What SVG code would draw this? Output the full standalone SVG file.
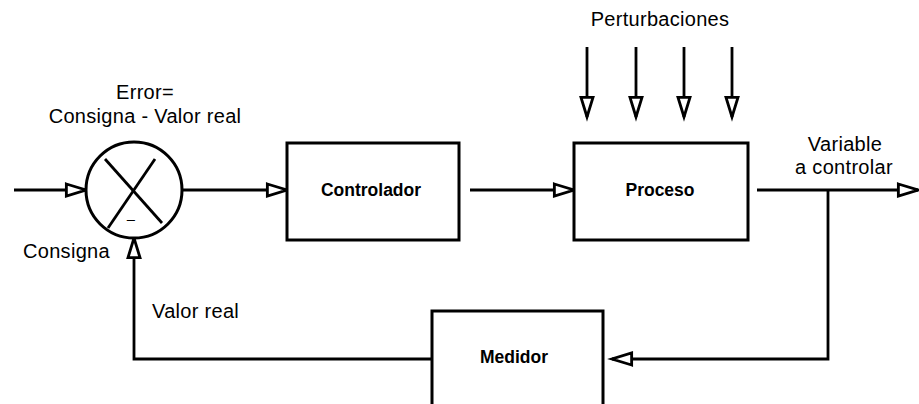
<svg xmlns="http://www.w3.org/2000/svg" width="919" height="404" viewBox="0 0 919 404">
  <style>
    .box { fill: #fff; stroke: #000; stroke-width: 3; }
    .wire { fill: none; stroke: #000; stroke-width: 2.8; }
    .arr { marker-end: url(#tri); }
    .lbl { font-family: "Liberation Sans", Arial, sans-serif; font-size: 20px; fill: #000; letter-spacing: 0.3px; }
    .name { font-family: "Liberation Sans", Arial, sans-serif; font-size: 17.5px; font-weight: bold; fill: #000; text-anchor: middle; }
  </style>
  <defs>
    <!-- open triangular arrowhead -->
    <marker id="tri" markerUnits="userSpaceOnUse" markerWidth="24" markerHeight="18" viewBox="-2 -2 22 15" refX="18" refY="5.5" orient="auto" overflow="visible">
      <path d="M0,0 L18,5.5 L0,11 Z" fill="#fff" stroke="#000" stroke-width="2.6" stroke-linejoin="miter"/>
    </marker>
  </defs>

  <rect width="919" height="404" fill="#fff"/>

  <!-- connectors -->
  <g id="connectors">
    <line class="wire arr" x1="14" y1="190" x2="86" y2="190"/>
    <line class="wire arr" x1="182" y1="190" x2="287" y2="190"/>
    <line class="wire arr" x1="470" y1="190" x2="574" y2="190"/>
    <line class="wire arr" x1="757" y1="190" x2="918" y2="190"/>
    <polyline class="wire arr" points="828,190 828,359 612,359"/>
    <polyline class="wire arr" points="432,359 134,359 134,238"/>
    <line class="wire arr" x1="587" y1="47" x2="587" y2="117"/>
    <line class="wire arr" x1="636" y1="47" x2="636" y2="117"/>
    <line class="wire arr" x1="684" y1="47" x2="684" y2="117"/>
    <line class="wire arr" x1="732" y1="47" x2="732" y2="117"/>
  </g>

  <!-- summing junction -->
  <g id="sumador">
    <circle cx="134" cy="190" r="48" class="box"/>
    <line class="wire" x1="105" y1="159" x2="162" y2="223"/>
    <line class="wire" x1="155" y1="159" x2="108" y2="228"/>
    <text x="131" y="218" font-family="Liberation Sans, Arial, sans-serif" font-size="14" text-anchor="middle">_</text>
  </g>

  <g id="controlador">
    <rect class="box" x="287" y="143" width="172" height="97"/>
    <text class="name" x="371" y="196">Controlador</text>
  </g>

  <g id="proceso">
    <rect class="box" x="574" y="143" width="174" height="97"/>
    <text class="name" x="660" y="196">Proceso</text>
  </g>

  <g id="medidor">
    <rect class="box" x="432" y="311" width="171" height="120"/>
    <text class="name" x="514" y="363">Medidor</text>
  </g>

  <!-- labels -->
  <g id="labels">
    <text class="lbl" x="660" y="26" text-anchor="middle">Perturbaciones</text>
    <text class="lbl" x="145" y="99" text-anchor="middle">Error=</text>
    <text class="lbl" x="145" y="123" text-anchor="middle">Consigna - Valor real</text>
    <text class="lbl" x="23" y="258">Consigna</text>
    <text class="lbl" x="152" y="318">Valor real</text>
    <text class="lbl" x="845" y="151" text-anchor="middle">Variable</text>
    <text class="lbl" x="844" y="174" text-anchor="middle">a controlar</text>
  </g>
</svg>
